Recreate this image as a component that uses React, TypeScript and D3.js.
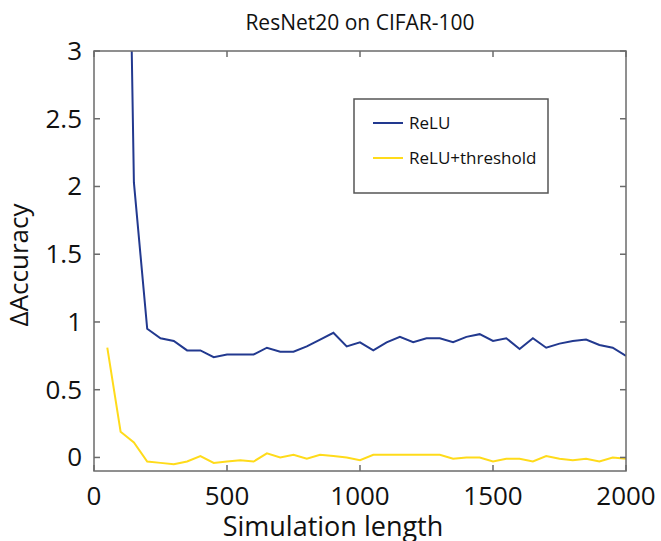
import * as d3 from "d3";

const steps = [
  50, 100, 150, 200, 250, 300, 350, 400, 450, 500, 550, 600, 650, 700, 750, 800, 850, 900, 950, 1000,
  1050, 1100, 1150, 1200, 1250, 1300, 1350, 1400, 1450, 1500, 1550, 1600, 1650, 1700, 1750, 1800,
  1850, 1900, 1950, 2000,
];

// ReLU has no sample at 50
const relu = [
  NaN, 8.0, 2.03, 0.95, 0.88, 0.86, 0.79, 0.79, 0.74, 0.76, 0.76, 0.76, 0.81, 0.78, 0.78, 0.82,
  0.87, 0.92, 0.82, 0.85, 0.79, 0.85, 0.89, 0.85, 0.88, 0.88, 0.85, 0.89, 0.91, 0.86, 0.88, 0.8,
  0.88, 0.81, 0.84, 0.86, 0.87, 0.83, 0.81, 0.75,
];

const reluThreshold = [
  0.81, 0.19, 0.11, -0.03, -0.04, -0.05, -0.03, 0.01, -0.04, -0.03, -0.02, -0.03, 0.03, 0.0, 0.02,
  -0.01, 0.02, 0.01, 0.0, -0.02, 0.02, 0.02, 0.02, 0.02, 0.02, 0.02, -0.01, 0.0, 0.0, -0.03, -0.01,
  -0.01, -0.03, 0.01, -0.01, -0.02, -0.01, -0.03, 0.0, -0.01,
];

const xTicks = [0, 500, 1000, 1500, 2000];
const yTicks = [0, 0.5, 1, 1.5, 2, 2.5, 3];
const seriesNames = ["ReLU", "ReLU+threshold"];
const seriesColors = ["#22398f", "#ffdb1a"];

const W = 661;
const H = 541;
const left = 94;
const right = 626;
const top = 51;
const bottom = 471;
const font = "'Open Sans', 'Noto Sans', sans-serif";

export default function App() {
  const x = d3.scaleLinear().domain([0, 2000]).range([left, right]);
  const y = d3.scaleLinear().domain([-0.1, 3]).range([bottom, top]);

  const line = d3
    .line<number>()
    .defined((d) => !Number.isNaN(d))
    .x((_, i) => x(steps[i]))
    .y((d) => y(d));

  const series = [relu, reluThreshold];
  const axisColor = "#6b6b6b";
  const tickLen = 6;

  return (
    <svg
      width={W}
      height={H}
      style={{ position: "absolute", left: 0, top: 0, background: "#fff" }}
      fontFamily={font}
    >
      <defs>
        <clipPath id="plot">
          <rect x={left} y={top} width={right - left} height={bottom - top} />
        </clipPath>
      </defs>

      <text x={(left + right) / 2} y={30} textAnchor="middle" fontSize={21} fill="#111">
        ResNet20 on CIFAR-100
      </text>

      <g clipPath="url(#plot)">
        {series.map((s, i) => (
          <path key={i} d={line(s) ?? ""} fill="none" stroke={seriesColors[i]} strokeWidth={2} />
        ))}
      </g>

      {/* box */}
      <rect
        x={left}
        y={top}
        width={right - left}
        height={bottom - top}
        fill="none"
        stroke={axisColor}
        strokeWidth={1.5}
      />

      {xTicks.map((t) => (
        <g key={"x" + t}>
          <line x1={x(t)} x2={x(t)} y1={bottom} y2={bottom - tickLen} stroke={axisColor} strokeWidth={1.5} />
          <line x1={x(t)} x2={x(t)} y1={top} y2={top + tickLen} stroke={axisColor} strokeWidth={1.5} />
          <text x={x(t)} y={bottom + 34} textAnchor="middle" fontSize={26} fill="#111">
            {t}
          </text>
        </g>
      ))}

      {yTicks.map((t) => (
        <g key={"y" + t}>
          <line x1={left} x2={left + tickLen} y1={y(t)} y2={y(t)} stroke={axisColor} strokeWidth={1.5} />
          <line x1={right} x2={right - tickLen} y1={y(t)} y2={y(t)} stroke={axisColor} strokeWidth={1.5} />
          <text x={left - 12} y={y(t) + 9} textAnchor="end" fontSize={26} fill="#111">
            {t}
          </text>
        </g>
      ))}

      <text x={333} y={536} textAnchor="middle" fontSize={27} fill="#111">
        Simulation length
      </text>
      <text
        transform={`translate(28, 265) rotate(-90)`}
        textAnchor="middle"
        fontSize={26}
        fill="#111"
      >
        ΔAccuracy
      </text>

      {/* legend */}
      <rect x={354} y={99} width={194} height={94} fill="#fff" stroke="#555" strokeWidth={1.5} />
      {seriesNames.map((n, i) => (
        <g key={n} transform={`translate(373, ${123 + i * 35})`}>
          <line x1={0} x2={30} y1={0} y2={0} stroke={seriesColors[i]} strokeWidth={2} />
          <text x={36} y={6} fontSize={17} fill="#111">
            {n}
          </text>
        </g>
      ))}
    </svg>
  );
}
